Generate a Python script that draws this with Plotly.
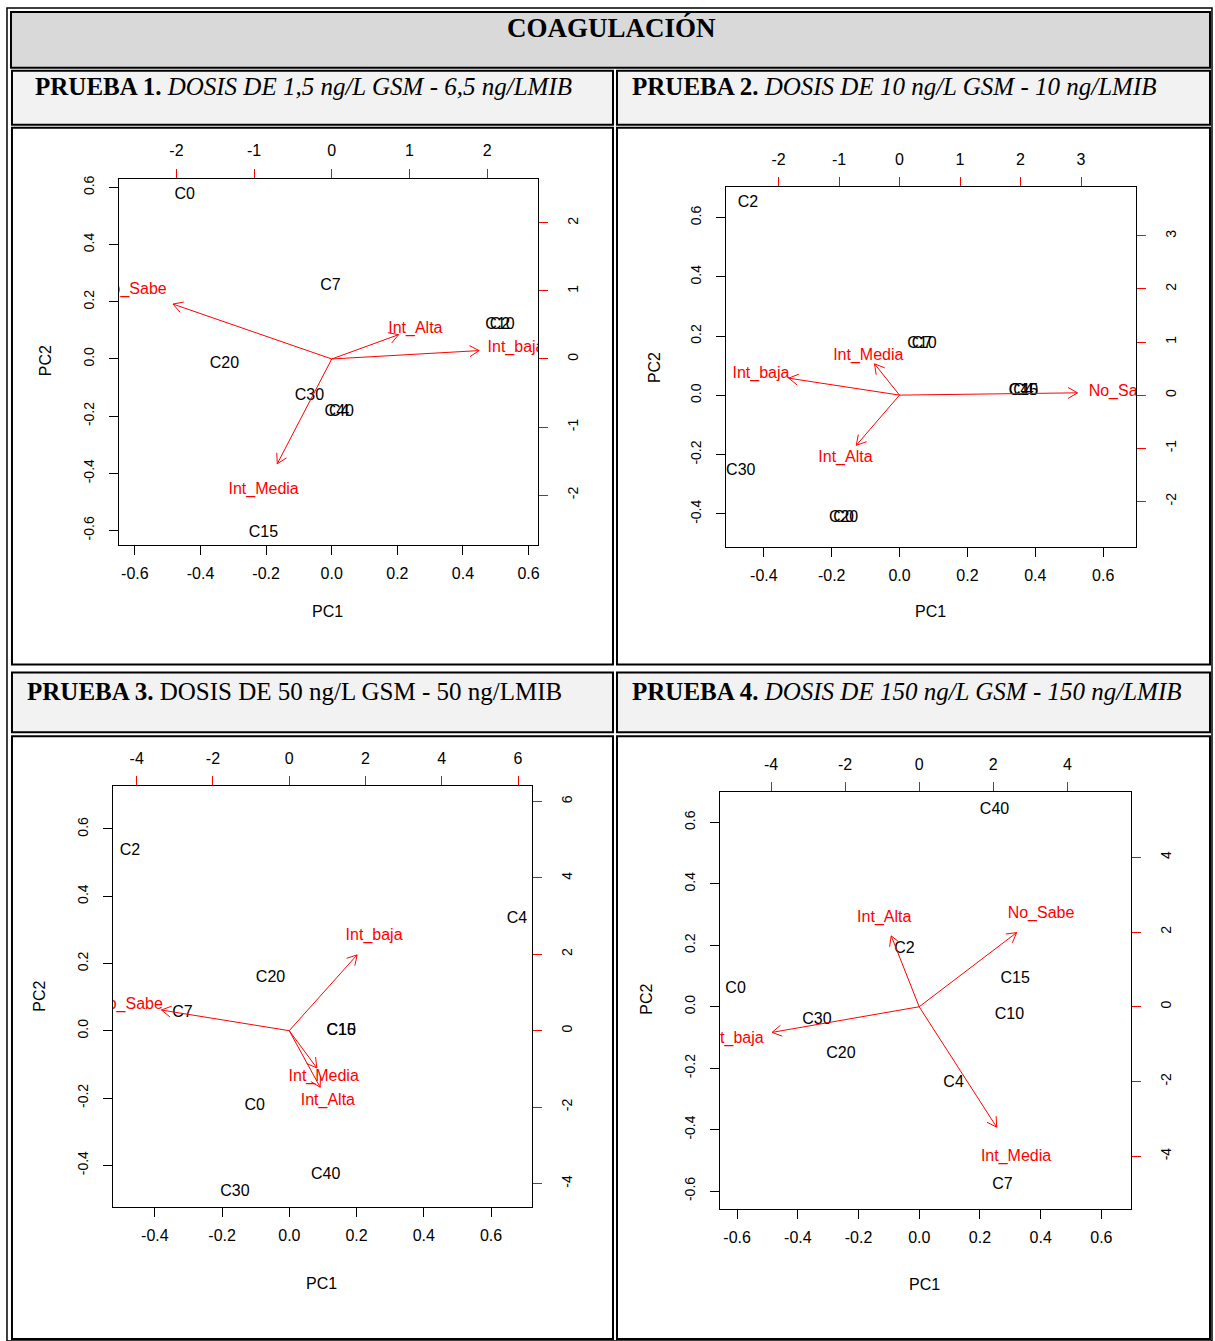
import math
import plotly.graph_objects as go

W, H = 1215, 1341

# ---------------- data ----------------
title_text = "COAGULACIÓN"
head_bold = ["PRUEBA 1.", "PRUEBA 2.", "PRUEBA 3.", "PRUEBA 4."]
head_rest = ["DOSIS DE 1,5 ng/L GSM - 6,5 ng/LMIB", "DOSIS DE 10 ng/L GSM - 10 ng/LMIB",
             "DOSIS DE 50 ng/L GSM - 50 ng/LMIB", "DOSIS DE 150 ng/L GSM - 150 ng/LMIB"]
head_italic = [True, True, False, True]

# Prueba 1
p1_samples = ["C0", "C7", "C2", "C10", "C20", "C30", "C4", "C40", "C15"]
p1_pc1 = [-0.448, -0.004, 0.513, 0.513, -0.327, -0.068, 0.023, 0.023, -0.208]
p1_pc2 = [0.575, 0.254, 0.119, 0.119, -0.018, -0.131, -0.186, -0.186, -0.609]
p1_vars = ["No_Sabe", "Int_Alta", "Int_baja", "Int_Media"]
p1_vx = [-2.555, 1.077, 2.373, -0.877]
p1_vy = [1.008, 0.447, 0.154, -1.925]

# Prueba 2
p2_samples = ["C2", "C30", "C0", "C20", "C7", "C10", "C4", "C15", "C40"]
p2_pc1 = [-0.447, -0.468, -0.165, -0.165, 0.066, 0.066, 0.365, 0.365, 0.365]
p2_pc2 = [0.648, -0.254, -0.415, -0.415, 0.173, 0.173, 0.013, 0.013, 0.013]
p2_vars = ["No_Sabe", "Int_baja", "Int_Media", "Int_Alta"]
p2_vx = [3.678, -2.290, -0.516, -0.893]
p2_vy = [0.054, 0.399, 0.736, -1.182]

# Prueba 3
p3_samples = ["C2", "C4", "C20", "C7", "C10", "C15", "C0", "C40", "C30"]
p3_pc1 = [-0.474, 0.677, -0.056, -0.318, 0.154, 0.154, -0.103, 0.108, -0.162]
p3_pc2 = [0.534, 0.331, 0.158, 0.052, 0.0, 0.0, -0.223, -0.430, -0.480]
p3_vars = ["No_Sabe", "Int_baja", "Int_Media", "Int_Alta"]
p3_vx = [-4.188, 2.225, 0.904, 1.014]
p3_vy = [0.676, 2.480, -1.218, -1.850]

# Prueba 4
p4_samples = ["C40", "C2", "C0", "C15", "C10", "C30", "C20", "C4", "C7"]
p4_pc1 = [0.248, -0.049, -0.605, 0.316, 0.297, -0.337, -0.258, 0.113, 0.274]
p4_pc2 = [0.639, 0.187, 0.057, 0.090, -0.027, -0.042, -0.154, -0.249, -0.581]
p4_vars = ["No_Sabe", "Int_Alta", "Int_baja", "Int_Media"]
p4_vx = [3.289, -0.943, -4.966, 2.615]
p4_vy = [2.480, 2.370, -0.858, -4.029]

# tick values / labels
t06 = [-0.6, -0.4, -0.2, 0.0, 0.2, 0.4, 0.6]
t06_lab = ["-0.6", "-0.4", "-0.2", "0.0", "0.2", "0.4", "0.6"]
t46 = [-0.4, -0.2, 0.0, 0.2, 0.4, 0.6]
t46_lab = ["-0.4", "-0.2", "0.0", "0.2", "0.4", "0.6"]
t2_2 = [-2, -1, 0, 1, 2]
t2_2_lab = ["-2", "-1", "0", "1", "2"]
t2_3 = [-2, -1, 0, 1, 2, 3]
t2_3_lab = ["-2", "-1", "0", "1", "2", "3"]
t4_6 = [-4, -2, 0, 2, 4, 6]
t4_6_lab = ["-4", "-2", "0", "2", "4", "6"]
t4_4 = [-4, -2, 0, 2, 4]
t4_4_lab = ["-4", "-2", "0", "2", "4"]

# ---------------- layout config ----------------
panels = [
    dict(s=p1_samples, x=p1_pc1, y=p1_pc2, v=p1_vars, vx=p1_vx, vy=p1_vy,
         box=(119, 539, 176, 543), xr=(-0.649, 0.629), yr=(-0.650, 0.631),
         x2r=(-2.742, 2.657), y2r=(-2.73, 2.65),
         xt=(t06, t06_lab), yt=(t06, t06_lab), x2t=(t2_2, t2_2_lab), y2t=(t2_2, t2_2_lab),
         pc1=(328, 610), pc2=(45, 358)),
    dict(s=p2_samples, x=p2_pc1, y=p2_pc2, v=p2_vars, vx=p2_vx, vy=p2_vy,
         box=(726.7, 1138.3, 184.7, 545), xr=(-0.513, 0.698), yr=(-0.511, 0.702),
         x2r=(-2.876, 3.916), y2r=(-2.857, 3.915),
         xt=(t46, t46_lab), yt=(t46, t46_lab), x2t=(t2_3, t2_3_lab), y2t=(t2_3, t2_3_lab),
         pc1=(932, 610), pc2=(655, 365)),
    dict(s=p3_samples, x=p3_pc1, y=p3_pc2, v=p3_vars, vx=p3_vx, vy=p3_vy,
         box=(112.7, 533.3, 784.7, 1206.7), xr=(-0.526, 0.723), yr=(-0.524, 0.728),
         x2r=(-4.634, 6.377), y2r=(-4.614, 6.405),
         xt=(t46, t46_lab), yt=(t46, t46_lab), x2t=(t4_6, t4_6_lab), y2t=(t4_6, t4_6_lab),
         pc1=(322, 1283), pc2=(40, 995)),
    dict(s=p4_samples, x=p4_pc1, y=p4_pc2, v=p4_vars, vx=p4_vx, vy=p4_vy,
         box=(720.7, 1133.3, 790.7, 1208.3), xr=(-0.658, 0.699), yr=(-0.657, 0.699),
         x2r=(-5.39, 5.73), y2r=(-5.402, 5.749),
         xt=(t06, t06_lab), yt=(t06, t06_lab), x2t=(t4_4, t4_4_lab), y2t=(t4_4, t4_4_lab),
         pc1=(926, 1284), pc2=(648, 998)),
]

SANS = "Liberation Sans, Arial, sans-serif"
SERIF = "Liberation Serif, Times New Roman, serif"
RED = "#FF0000"


def fx(p):
    return p / W


def fy(p):
    return 1 - p / H


fig = go.Figure()
layout = dict(width=W, height=H, margin=dict(l=0, r=0, t=0, b=0),
              paper_bgcolor="white", plot_bgcolor="white", showlegend=False)
shapes = []
annotations = []

# table cells
cells = [
    (11, 1212, 9, 65, "#d9d9d9"),
    (12, 614, 68, 122, "#f2f2f2"), (618, 1212, 68, 122, "#f2f2f2"),
    (12, 614, 125, 663, "white"), (618, 1212, 125, 663, "white"),
    (12, 614, 671, 731, "#f2f2f2"), (618, 1212, 671, 731, "#f2f2f2"),
    (12, 614, 735, 1339, "white"), (618, 1212, 735, 1339, "white"),
]
shapes.append(dict(type="rect", xref="paper", yref="paper", layer="below",
                   x0=fx(7), x1=fx(1214), y0=fy(1341), y1=fy(5),
                   line=dict(color="black", width=1.5), fillcolor="white"))
for x0, x1, y0, y1, fc in cells:
    shapes.append(dict(type="rect", xref="paper", yref="paper", layer="below",
                       x0=fx(x0), x1=fx(x1), y0=fy(y1), y1=fy(y0),
                       line=dict(color="black", width=2), fillcolor=fc))

annotations.append(dict(x=fx(613), y=fy(25), xref="paper", yref="paper", showarrow=False,
                        text="<b>%s</b>" % title_text, xanchor="center", yanchor="middle",
                        font=dict(family=SERIF, size=27, color="black")))
head_pos = [(33, 84), (631, 84), (25, 690), (631, 690)]
for i in range(4):
    rest = head_rest[i]
    rest = ("<i>%s</i>" % rest) if head_italic[i] else rest
    annotations.append(dict(x=fx(head_pos[i][0]), y=fy(head_pos[i][1]), xref="paper", yref="paper",
                            showarrow=False, text="<b>%s</b> %s" % (head_bold[i], rest),
                            xanchor="left", yanchor="middle",
                            font=dict(family=SERIF, size=25, color="black")))

TL = 9
for i, p in enumerate(panels):
    n1 = 2 * i + 1
    n2 = 2 * i + 2
    xa1 = "x" if n1 == 1 else "x%d" % n1
    ya1 = "y" if n1 == 1 else "y%d" % n1
    xa2 = "x%d" % n2
    ya2 = "y%d" % n2
    k = lambda a: a.replace("x", "xaxis").replace("y", "yaxis")
    bx0, bx1, by0, by1 = p["box"]
    xdom = [fx(bx0), fx(bx1)]
    ydom = [fy(by1), fy(by0)]
    layout[k(xa1)] = dict(domain=xdom, range=list(p["xr"]), anchor=ya1, side="bottom",
                          tickvals=p["xt"][0], ticktext=p["xt"][1], ticks="outside", ticklen=TL,
                          tickcolor="black", showgrid=False, zeroline=False, showline=True,
                          mirror=True, linecolor="black", linewidth=1,
                          tickfont=dict(family=SANS, size=16, color="black"),
                          ticklabelstandoff=5)
    layout[k(ya1)] = dict(domain=ydom, range=list(p["yr"]), anchor=xa1, side="left",
                          tickvals=p["yt"][0], ticktext=p["yt"][1], ticks="outside", ticklen=TL,
                          tickcolor="black", showgrid=False, zeroline=False, showline=True,
                          mirror=True, linecolor="black", linewidth=1, tickangle=-90,
                          tickfont=dict(family=SANS, size=14, color="black"),
                          ticklabelstandoff=9)
    layout[k(xa2)] = dict(overlaying=xa1, range=list(p["x2r"]), anchor=ya2, side="top",
                          tickvals=p["x2t"][0], ticktext=p["x2t"][1], ticks="outside", ticklen=TL,
                          tickcolor=RED, showgrid=False, zeroline=False, showline=False,
                          tickfont=dict(family=SANS, size=16, color="black"),
                          ticklabelstandoff=6)
    layout[k(ya2)] = dict(overlaying=ya1, range=list(p["y2r"]), anchor=xa2, side="right",
                          tickvals=p["y2t"][0], ticktext=p["y2t"][1], ticks="outside", ticklen=TL,
                          tickcolor=RED, showgrid=False, zeroline=False, showline=False,
                          tickangle=-90, tickfont=dict(family=SANS, size=14, color="black"),
                          ticklabelstandoff=13)

    # sample labels
    fig.add_trace(go.Scatter(x=p["x"], y=p["y"], text=p["s"], mode="text", xaxis=xa1, yaxis=ya1,
                             textposition="middle center", hoverinfo="skip",
                             textfont=dict(family=SANS, size=16, color="black")))

    # arrows (to 0.8 * loading, as in R biplot)
    sx = (bx1 - bx0) / (p["x2r"][1] - p["x2r"][0])
    sy = (by1 - by0) / (p["y2r"][1] - p["y2r"][0])
    ax, ay = [], []
    L = 11
    ang = math.radians(30)
    for vx, vy in zip(p["vx"], p["vy"]):
        tx, ty = 0.8 * vx, 0.8 * vy
        ax += [0, tx, None]
        ay += [0, ty, None]
        th = math.atan2(ty * sy, tx * sx)
        a1 = th + math.pi + ang
        a2 = th + math.pi - ang
        ax += [tx + L * math.cos(a1) / sx, tx, tx + L * math.cos(a2) / sx, None]
        ay += [ty + L * math.sin(a1) / sy, ty, ty + L * math.sin(a2) / sy, None]
    fig.add_trace(go.Scatter(x=ax, y=ay, mode="lines", xaxis=xa2, yaxis=ya2, hoverinfo="skip",
                             line=dict(color=RED, width=1)))
    fig.add_trace(go.Scatter(x=p["vx"], y=p["vy"], text=p["v"], mode="text", xaxis=xa2, yaxis=ya2,
                             textposition="middle center", hoverinfo="skip",
                             textfont=dict(family=SANS, size=16, color=RED)))

    annotations.append(dict(x=fx(p["pc1"][0]), y=fy(p["pc1"][1]), xref="paper", yref="paper",
                            showarrow=False, text="PC1", xanchor="center", yanchor="middle",
                            font=dict(family=SANS, size=16, color="black")))
    annotations.append(dict(x=fx(p["pc2"][0]), y=fy(p["pc2"][1]), xref="paper", yref="paper",
                            showarrow=False, text="PC2", xanchor="center", yanchor="middle",
                            textangle=-90, font=dict(family=SANS, size=16, color="black")))

layout["shapes"] = shapes
layout["annotations"] = annotations
fig.update_layout(**layout)
fig.write_html("out.html")
